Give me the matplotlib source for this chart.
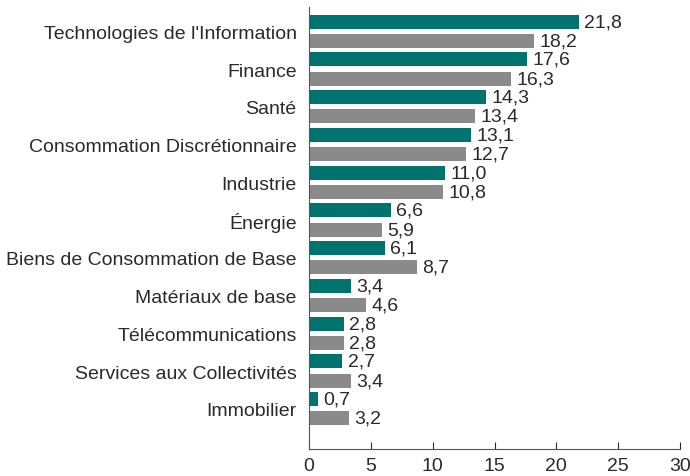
import matplotlib.pyplot as plt
import numpy as np

plt.rcParams['font.family'] = ['Liberation Sans', 'DejaVu Sans']

secteurs = [
    "Technologies de l'Information",
    "Finance",
    "Santé",
    "Consommation Discrétionnaire",
    "Industrie",
    "Énergie",
    "Biens de Consommation de Base",
    "Matériaux de base",
    "Télécommunications",
    "Services aux Collectivités",
    "Immobilier",
]
serie_1 = [21.8, 17.6, 14.3, 13.1, 11.0, 6.6, 6.1, 3.4, 2.8, 2.7, 0.7]
serie_2 = [18.2, 16.3, 13.4, 12.7, 10.8, 5.9, 8.7, 4.6, 2.8, 3.4, 3.2]

teal = '#00736e'
gris = '#8a8a8a'
texte = '#2a2a2a'
fs = 14

fig = plt.figure(figsize=(6.9, 4.77), dpi=100)
ax = fig.add_axes([0.448, 0.057, 0.5375, 0.926])

y = np.arange(len(secteurs))
ax.barh(y - 0.255, serie_1, height=0.37, color=teal)
ax.barh(y + 0.255, serie_2, height=0.37, color=gris)

def fmt(v):
    return f"{v:.1f}".replace('.', ',')

for yi, v in zip(y, serie_1):
    ax.text(v + 0.45, yi - 0.255, fmt(v), va='center', ha='left', fontsize=fs, color=texte)
for yi, v in zip(y, serie_2):
    ax.text(v + 0.45, yi + 0.255, fmt(v), va='center', ha='left', fontsize=fs, color=texte)

ax.set_yticks(y)
ax.set_yticklabels(secteurs, fontsize=fs, color=texte)
ax.tick_params(axis='y', length=0, pad=9)
ax.set_ylim(len(secteurs) - 1 + 1.06, -0.64)

ax.set_xlim(0, 30)
ax.set_xticks([0, 5, 10, 15, 20, 25, 30])
ax.tick_params(axis='x', direction='in', length=5, labelsize=fs, colors=texte, pad=6)

for s in ['top', 'right']:
    ax.spines[s].set_visible(False)
for s in ['left', 'bottom']:
    ax.spines[s].set_color('#555555')
    ax.spines[s].set_linewidth(0.8)

fig.savefig('out.png', dpi=100)
